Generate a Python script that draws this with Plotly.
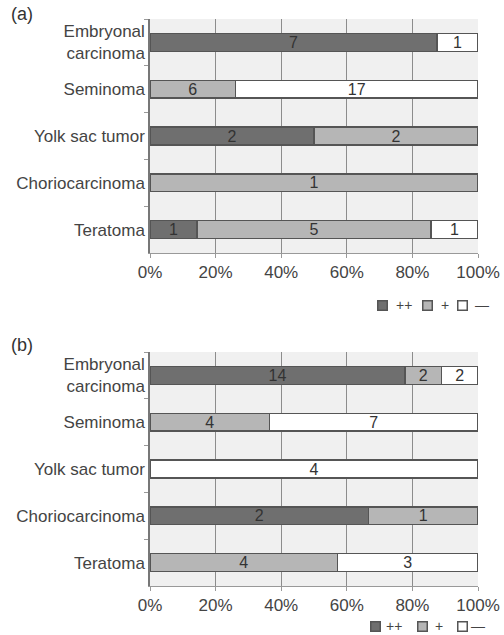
import plotly.graph_objects as go
from plotly.subplots import make_subplots

categories = ["Embryonal<br>carcinoma", "Seminoma", "Yolk sac tumor", "Choriocarcinoma", "Teratoma"]
series_names = ["++", "+", "\u2014"]

a_pp = [7, 0, 2, 0, 1]
a_p = [0, 6, 2, 1, 5]
a_m = [1, 17, 0, 0, 1]

b_pp = [14, 0, 0, 2, 0]
b_p = [2, 4, 0, 1, 4]
b_m = [2, 7, 4, 0, 3]

x_ticks = [0, 20, 40, 60, 80, 100]
x_ticklabels = ["0%", "20%", "40%", "60%", "80%", "100%"]

colors = ["#6f6f6f", "#b6b6b6", "#ffffff"]

FONT = "Arial, Liberation Sans"

fig = make_subplots(rows=2, cols=1, vertical_spacing=0.1)

panels = [(1, [a_pp, a_p, a_m]), (2, [b_pp, b_p, b_m])]
for row, series in panels:
    for name, vals, col in zip(series_names, series, colors):
        fig.add_trace(go.Bar(
            y=categories, x=vals, orientation="h", name=name,
            marker=dict(color=col, line=dict(color="#555555", width=1.5)),
            text=[str(v) if v else "" for v in vals],
            textposition="inside", insidetextanchor="middle", textangle=0,
            textfont=dict(size=16, color="#333333", family=FONT),
            width=0.38, showlegend=False,
        ), row=row, col=1)

W = 328.0
H = 635.0


def px_x(p):
    return (p - 150) / W


def px_y(p):
    return 1 - p / H


annotations = [
    dict(text="(a)", x=px_x(9), y=px_y(14), xref="paper", yref="paper", showarrow=False,
         font=dict(size=18, color="#333333", family=FONT), xanchor="left", yanchor="middle"),
    dict(text="(b)", x=px_x(9), y=px_y(345), xref="paper", yref="paper", showarrow=False,
         font=dict(size=18, color="#333333", family=FONT), xanchor="left", yanchor="middle"),
]

# legend keys built from series names/colors
legend_layouts = [
    (305, [382, 427, 462], [404, 445, 482]),
    (626, [375, 422, 462], [394, 439, 478]),
]
for ly, sq_xs, tx_xs in legend_layouts:
    for name, col, sx, tx in zip(series_names, colors, sq_xs, tx_xs):
        annotations.append(dict(
            text=" ", x=px_x(sx), y=px_y(ly), xref="paper", yref="paper", showarrow=False,
            xanchor="center", yanchor="middle", width=8, height=8, font=dict(size=4),
            bgcolor=col, bordercolor="#555555", borderwidth=1.5, borderpad=0))
        annotations.append(dict(
            text=name, x=px_x(tx), y=px_y(ly), xref="paper", yref="paper", showarrow=False,
            xanchor="center", yanchor="middle", font=dict(size=14, color="#444444", family=FONT)))

fig.update_layout(
    width=504, height=635,
    barmode="stack", barnorm="percent",
    paper_bgcolor="white", plot_bgcolor="#f0f0f0",
    margin=dict(l=150, r=26, t=0, b=0, autoexpand=False),
    uniformtext=dict(minsize=16, mode="show"),
    font=dict(family=FONT, size=16, color="#444444"),
    annotations=annotations,
)

fig.update_yaxes(autorange="reversed", showline=True, linecolor="#777777", linewidth=1.5,
                 ticks="outside", tickson="boundaries", ticklen=4, tickcolor="#999999",
                 showgrid=False, tickfont=dict(size=17, color="#444444", family=FONT))
fig.update_xaxes(range=[0, 100], tickvals=x_ticks, ticktext=x_ticklabels,
                 showgrid=True, gridcolor="#8c8c8c", gridwidth=1.2,
                 showline=True, linecolor="#999999", ticks="outside", ticklen=4,
                 tickcolor="#999999", zeroline=False,
                 tickfont=dict(size=17, color="#444444", family=FONT))

fig.update_yaxes(domain=[1 - 253 / H, 1 - 19 / H], row=1, col=1)
fig.update_yaxes(domain=[1 - 586 / H, 1 - 352 / H], row=2, col=1)

fig.write_html("out.html", config={"displayModeBar": False},
               post_script="document.body.style.margin='0';")
